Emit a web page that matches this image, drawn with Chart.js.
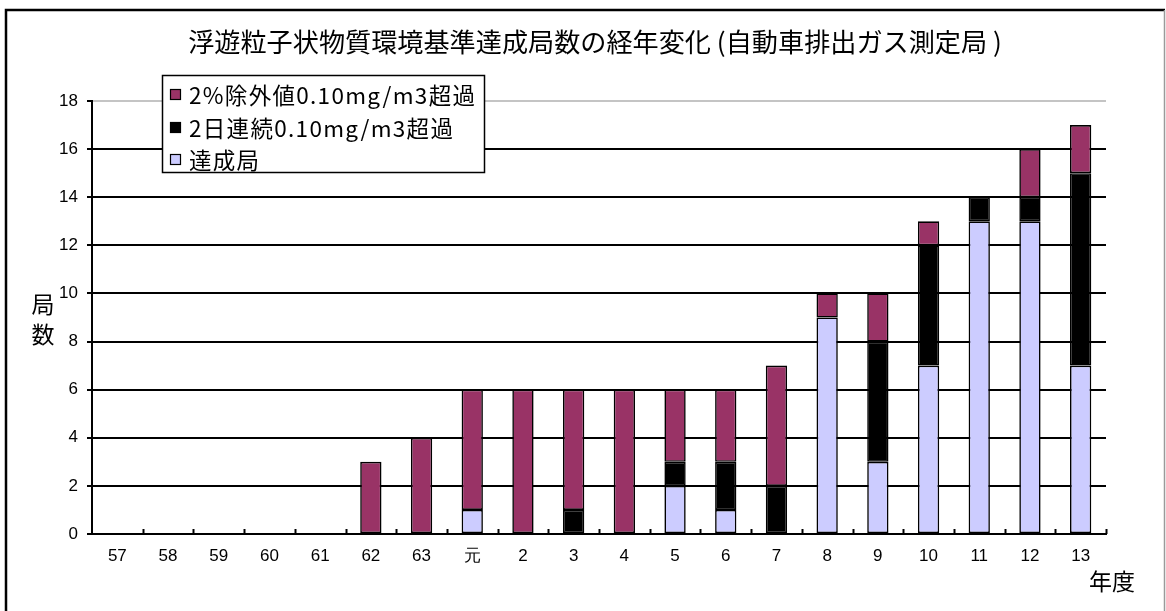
<!DOCTYPE html>
<html>
<head>
<meta charset="utf-8">
<script src="https://cdn.jsdelivr.net/npm/chart.js@4/dist/chart.umd.min.js"></script>
<style>
  html, body { margin: 0; padding: 0; background: #ffffff; }
  #wrap { width: 1166px; height: 611px; position: relative; }
  canvas { display: block; }
</style>
</head>
<body>
<div id="wrap"><canvas id="chart" width="1166" height="611"></canvas></div>
<script>
// Fiscal years (昭和57 … 平成13)
const years = ['57', '58', '59', '60', '61', '62', '63', '元', '2', '3', '4', '5', '6', '7', '8', '9', '10', '11', '12', '13'];

// Station counts per category, stacked bottom to top
const achieved     = [0, 0, 0, 0, 0, 0, 0, 1, 0, 0, 0, 2, 1, 0, 9, 3, 7, 13, 13, 7];
const twoDayOver   = [0, 0, 0, 0, 0, 0, 0, 0, 0, 1, 0, 1, 2, 2, 0, 5, 5, 1, 1, 8];
const pct2Over     = [0, 0, 0, 0, 0, 3, 4, 5, 6, 5, 6, 3, 3, 5, 1, 2, 1, 0, 2, 2];

const seriesNames  = ['達成局', '2日連続0.10mg/m3超過', '2%除外値0.10mg/m3超過'];
const seriesColors = ['#ccccff', '#000000', '#993366'];

const yMin = 0, yMax = 18, yStep = 2;

const titleText = '浮遊粒子状物質環境基準達成局数の経年変化 (自動車排出ガス測定局 )';
const yTitleChars = ['局', '数'];
const xTitleText = '年度';

const SANS = 'Arial, "Liberation Sans", sans-serif';
const CJK = '"Noto Sans CJK JP", sans-serif';

// Font size that makes a string span a given width
function fitSize(ctx, text, family, width) {
  ctx.font = '100px ' + family;
  return 100 * width / ctx.measureText(text).width;
}

const decor = {
  id: 'decor',
  beforeDraw(chart) {
    const ctx = chart.ctx;
    ctx.save();
    ctx.fillStyle = '#ffffff';
    ctx.fillRect(0, 0, chart.width, chart.height);
    // outer frame
    ctx.strokeStyle = '#000000';
    ctx.lineWidth = 2.5;
    ctx.beginPath();
    ctx.moveTo(6, 611);
    ctx.lineTo(6, 10);
    ctx.lineTo(1165, 10);
    ctx.stroke();
    ctx.strokeStyle = '#9a9a9a';
    ctx.lineWidth = 1.5;
    ctx.beginPath();
    ctx.moveTo(1164.5, 10);
    ctx.lineTo(1164.5, 611);
    ctx.stroke();
    ctx.restore();
  },
  afterDraw(chart) {
    const ctx = chart.ctx;
    const area = chart.chartArea;
    const n = years.length;
    ctx.save();

    // short inward tick marks between categories
    ctx.strokeStyle = '#000000';
    ctx.lineWidth = 2;
    const step = (area.right - area.left) / n;
    for (let i = 1; i <= n; i++) {
      const x = Math.round(area.left + i * step) + 0.5;
      ctx.beginPath();
      ctx.moveTo(x, area.bottom - 5);
      ctx.lineTo(x, area.bottom);
      ctx.stroke();
    }

    // title
    ctx.fillStyle = '#000000';
    ctx.textAlign = 'center';
    ctx.textBaseline = 'middle';
    const ts = fitSize(ctx, titleText, CJK, 814);
    ctx.font = ts.toFixed(2) + 'px ' + CJK;
    ctx.fillText(titleText, 595, 42);

    // y-axis title, stacked characters
    ctx.font = '23px ' + CJK;
    ctx.fillText(yTitleChars[0], 43, 304);
    ctx.fillText(yTitleChars[1], 43, 334);

    // x-axis title
    ctx.font = '23px ' + CJK;
    ctx.fillText(xTitleText, 1112, 581);

    // legend box
    const lx = 162, ly = 75, lw = 322, lh = 97;
    ctx.fillStyle = '#ffffff';
    ctx.fillRect(lx, ly, lw, lh);
    ctx.strokeStyle = '#000000';
    ctx.lineWidth = 1.5;
    ctx.strokeRect(lx + 0.5, ly + 0.5, lw, lh);

    const rowsY = [94, 127, 159];
    const order = [2, 1, 0];
    const ls = 22.5;
    ctx.font = ls + 'px ' + CJK;
    const longest = seriesNames[2];
    const spacing = Math.max(0, (286 - ctx.measureText(longest).width) / (longest.length - 1));
    ctx.textAlign = 'left';
    order.forEach((d, i) => {
      const y = rowsY[i];
      ctx.fillStyle = seriesColors[d];
      ctx.fillRect(170, y - 5, 11, 11);
      ctx.strokeStyle = '#000000';
      ctx.lineWidth = 1.2;
      ctx.strokeRect(170.5, y - 4.5, 10, 10);
      ctx.fillStyle = '#000000';
      ctx.font = ls + 'px ' + CJK;
      ctx.letterSpacing = spacing.toFixed(2) + 'px';
      ctx.fillText(seriesNames[d], 189, y + 1);
    });
    ctx.letterSpacing = '0px';
    ctx.restore();
  }
};

const series = [achieved, twoDayOver, pct2Over];

new Chart(document.getElementById('chart'), {
  type: 'bar',
  data: {
    labels: years,
    datasets: series.map((values, i) => ({
      label: seriesNames[i],
      data: values,
      backgroundColor: seriesColors[i],
      borderColor: '#000000',
      borderWidth: (c) => (c.raw ? 1.6 : 0),
      borderSkipped: false,
      barPercentage: 0.42,
      categoryPercentage: 1.0
    }))
  },
  options: {
    responsive: false,
    animation: false,
    devicePixelRatio: 1,
    layout: { padding: { left: 0, top: 101, right: 60, bottom: 0 } },
    plugins: {
      legend: { display: false },
      title: { display: false },
      tooltip: { enabled: false }
    },
    scales: {
      x: {
        stacked: true,
        afterFit(scale) { scale.height = 77; },
        grid: { display: true, drawOnChartArea: false, drawTicks: false },
        border: { display: true, color: '#000000', width: 2 },
        ticks: {
          color: '#000000',
          padding: 12,
          maxRotation: 0,
          autoSkip: false,
          font: { family: SANS, size: 17 }
        }
      },
      y: {
        stacked: true,
        min: yMin,
        max: yMax,
        afterFit(scale) { scale.width = 92; },
        grid: {
          color: (c) => (c.tick && c.tick.value === yMax ? '#c4c4c4' : '#000000'),
          lineWidth: 2,
          tickLength: 5,
          tickColor: '#000000',
          tickWidth: 2
        },
        border: { display: true, color: '#000000', width: 2 },
        ticks: {
          stepSize: yStep,
          color: '#000000',
          padding: 9,
          font: { family: SANS, size: 17 }
        }
      }
    }
  },
  plugins: [decor]
});
</script>
</body>
</html>
